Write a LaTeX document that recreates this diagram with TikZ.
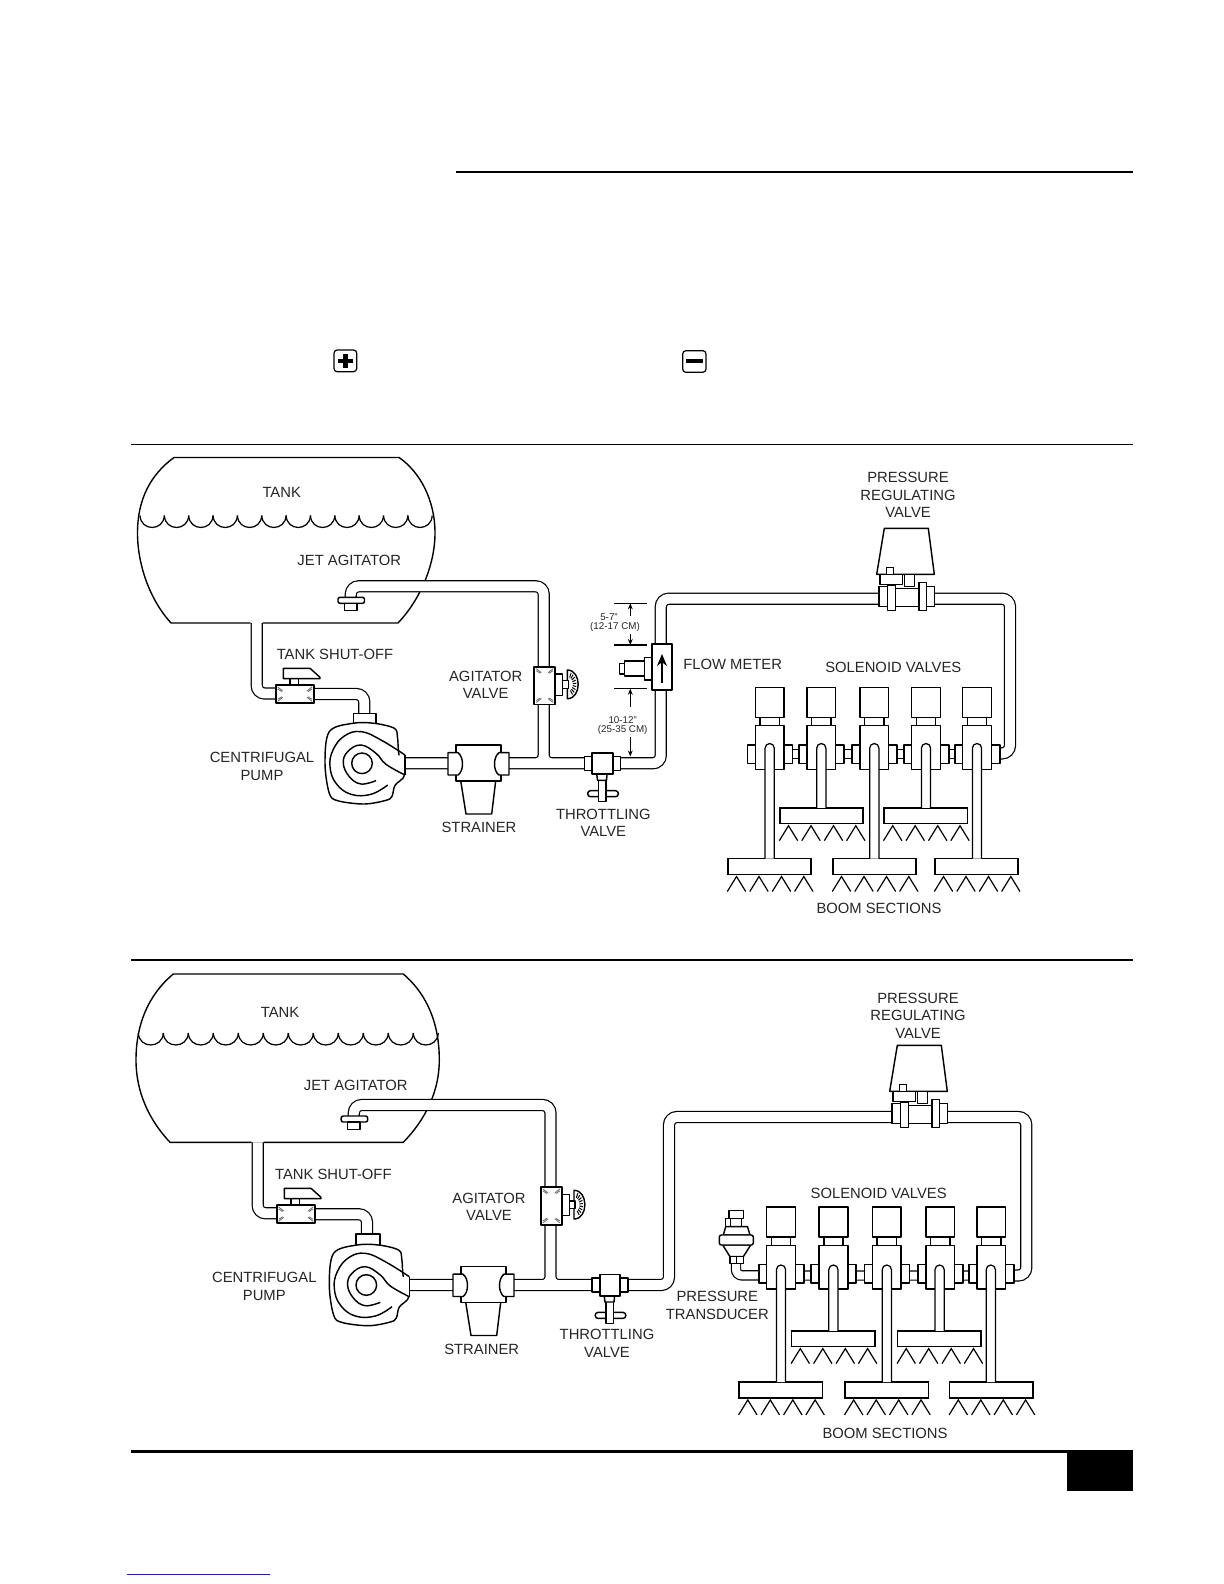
\documentclass[tikz,border=0pt]{standalone}
\usepackage{fontspec}
\setmainfont{Liberation Sans}
\usetikzlibrary{calc,arrows.meta}
\tikzset{
  lab/.style={font=\fontsize{7.4}{8.75}\selectfont,align=center,inner sep=0pt,text=black!85},
  tinylab/.style={font=\fontsize{4.9}{5}\selectfont,align=center,inner sep=0pt,text=black!85},
  part/.style={draw=black,fill=white,line width=0.72pt,line join=round},
  wall/.style={draw=black,fill=white,line width=0.62pt,rounded corners=2.3pt},
  thinline/.style={draw=black,line width=0.62pt},
  pipeblack/.style={draw=black,line width=6.1pt,rounded corners=4pt},
  pipewhite/.style={draw=white,line width=4.9pt,rounded corners=4pt},
  narrowblack/.style={draw=black,line width=5.2pt,rounded corners=3pt},
  narrowwhite/.style={draw=white,line width=4pt,rounded corners=3pt},
  boombox/.style={draw=black,fill=white,line width=0.75pt,rectangle,minimum width=41.7pt,minimum height=7.9pt,inner sep=0pt,outer sep=0pt},
  nozzle/.style={draw=black,line width=0.6pt,line join=miter},
  tick/.style={draw=black!60,line width=0.4pt},
  dimarrow/.style={draw=black,line width=0.45pt,-{Stealth[length=3pt,width=2.4pt]}},
  rule/.style={draw=black}
}
\newcommand\pipes[1]{\draw[pipeblack] #1; \draw[pipewhite] #1;}
\newcommand\narrowpipes[1]{\draw[narrowblack] #1; \draw[narrowwhite] #1;}
\newcommand\water[4]{\foreach \i in {0,...,11}{\pgfmathsetmacro\xa{#1+\i*#3}\pgfmathsetmacro\xb{\xa+#3}
  \draw[thinline] (\xa,#2) .. controls (\xa+0.03*#3,#2+1.33*#4) and (\xb-0.03*#3,#2+1.33*#4) .. (\xb,#2);}}
\newcommand\crossticks[2]{\foreach \sx/\sy/\dx/\dy in {0/0/1/1,#1/0/-1/1,0/#2/1/-1,#1/#2/-1/-1}{
  \draw[tick] (\sx+\dx*2,\sy+\dy*2) -- (\sx+\dx*7,\sy+\dy*6);
  \draw[tick] (\sx+\dx*2,\sy+\dy*4) -- (\sx+\dx*6,\sy+\dy*6.5);}}
\newcommand\shutoffvalve[2]{\begin{scope}[shift={(#1,#2)}]
  \draw[part] (14.3,-7) rectangle (22.6,1);
  \draw[part] (7.6,-16.7) -- (34.3,-16.7) -- (44.3,-7.7) -- (44.3,-6.3) -- (7.6,-6.3) -- cycle;
  \draw[part,line width=0.85pt] (0,0) rectangle (38.3,18.3);
  \crossticks{38.3}{18.3}
\end{scope}}
\newcommand\pumpbody[2]{\begin{scope}[shift={(#1,#2)}]
  \draw[part] plot[smooth cycle,tension=0.55] coordinates {(-32.7,-31.7)(-9.3,-40)(12.3,-40)(32.3,-35)(35.5,-26)(37,-8)(42.5,11.7)(33,22)(30,33)(24,37)(2.3,40.7)(-24,37.5)(-32.7,30)(-37,0)};
  \fill[white] (35,-8) -- (43,-8) -- (43,11.7) -- (41,11.7) -- cycle;
  \draw[thinline,line width=0.72pt] plot[smooth,tension=0.7] coordinates {(43,-8.3)(19,-23.3)(-1,-31.7)(-17.7,-27.3)(-29,-13.3)(-32,3.3)(-26,20)(-11,31)(9,31)(25.7,21.7)};
  \draw[thinline,line width=0.72pt] plot[smooth,tension=0.7] coordinates {(43,11.7)(24,1)(14,-10)(-1,-18.3)(-14.3,-11.7)(-18.7,0)(-12.7,13.3)(-1,20.7)(14,17.3)};
  \draw[thinline,line width=0.8pt] (43,-8.3) -- (43,11.7);
  \draw[thinline,line width=0.72pt] (0,0) circle[radius=10.3];
\end{scope}}
\newcommand\strainerbody[2]{\begin{scope}[shift={(#1,#2)}]
  \draw[part] (4.7,35.7) -- (10,69) -- (35.7,69) -- (39.7,35.7);
  \draw[part] (0,0) rectangle (45,36);
  \draw[part] (-8,7.7) -- (2,7.7) .. controls (8,12) and (8,26) .. (2,30) -- (-8,30) -- cycle;
  \draw[part] (53,7.7) -- (43,7.7) .. controls (37,12) and (37,26) .. (43,30) -- (53,30) -- cycle;
\end{scope}}
\newcommand\agitatorvalve[2]{\begin{scope}[shift={(#1,#2)}]
  \draw[part] (33,3.3) .. controls (47.5,3.3) and (47.5,32) .. (33,32) -- cycle;
  \foreach \a in {-65,-50,...,65}{\draw[draw=black,line width=0.5pt] ($(33,17.6)+(\a:5.5 and 7.5)$) -- ($(33,17.6)+(\a:9 and 12.5)$);}
  \draw[part] (28,13.8) rectangle (34,21.6);
  \draw[part] (20.7,7.3) rectangle (28.4,28.6);
  \draw[part,line width=0.85pt] (0,0) rectangle (20.8,37.8);
  \crossticks{20.8}{37.8}
\end{scope}}
\newcommand\jetbody[2]{\begin{scope}[shift={(#1,#2)}]
  \draw[part,rounded corners=1pt] (-13,0) rectangle (13.5,6);
  \draw[part] (-6.5,6) rectangle (5.9,13.4);
\end{scope}}
\newcommand\throttlevalve[2]{\begin{scope}[shift={(#1,#2)}]
  \draw[part,rounded corners=1.4pt] (-14.8,27.4) rectangle (15.8,33.4);
  \draw[part] (-4.2,16) rectangle (3.6,38.4);
  \draw[part] (-5.8,10.7) -- (4.6,10.7) -- (4,17) -- (-5,17) -- cycle;
  \draw[part] (-18.2,-6.8) rectangle (-10.2,7.2);
  \draw[part] (10.2,-6.8) rectangle (17.8,7.2);
  \draw[part,line width=0.85pt] (-10.2,-10.5) rectangle (10.2,10.7);
\end{scope}}
\newcommand\regvalve[2]{\begin{scope}[shift={(#1,#2)}]
  \draw[part] (0,0) -- (44,0) -- (50,46) -- (-7.6,46) -- cycle;
  \draw[part] (-4.3,46) rectangle (18.4,56);
  \draw[part] (20,46) rectangle (30,58.4);
  \draw[part] (2.4,39) rectangle (9,46.4);
  \draw[part] (-5.3,58.4) rectangle (3,78.4);
  \draw[part] (11.4,60) rectangle (34.7,78.4);
  \draw[part] (3,56.7) rectangle (11.4,82.4);
  \draw[part] (42.4,58.4) rectangle (50,78.4);
  \draw[part] (34.7,54.4) rectangle (42.4,82.4);
\end{scope}}
\newcommand\solenoid[2]{\begin{scope}[shift={(#1,#2)}]
  \draw[part] (-22.2,57.7) rectangle (-14.4,76);
  \draw[part] (14.4,57.7) rectangle (22.8,76);
  \draw[part] (-9.6,30) rectangle (9.6,38.4);
  \draw[part] (-14.4,38.4) rectangle (14.4,82);
  \draw[part] (-14.4,0) rectangle (14.4,30);
\end{scope}}
\newcommand\drop[2]{\draw[wall] ($(#1 |- #2.north)+(-4.6,0)$) -- ($(#1)+(-4.6,0)$) -- ($(#1)+(4.6,0)$) -- ($(#1 |- #2.north)+(4.6,0)$);}
\newcommand\nozzles[1]{\foreach \o in {-33,-10.5,12,34.3}{
  \draw[nozzle] ($(#1.south)+(\o-9.2,17)$) -- ($(#1.south)+(\o,2)$) -- ($(#1.south)+(\o+9.2,17)$);}}
\begin{document}
\begin{tikzpicture}[x=0.5pt,y=-0.5pt]
\useasboundingbox (0,0) rectangle (1224,1584);
\fill[white] (0,0) rectangle (1224,1584);

% page furniture
\draw[rule,line width=1pt] (455.5,172) -- (1133,172);
\draw[rule,line width=0.6pt] (131,444.4) -- (1133,444.4);
\draw[rule,line width=0.9pt] (131,960) -- (1133,960);
\draw[rule,line width=1.5pt] (131,1451.3) -- (1133,1451.3);
\fill[black] (1066.5,1450) rectangle (1133,1491);
\draw[draw={rgb,255:red,30;green,30;blue,170},line width=0.5pt] (127,1574.8) -- (270,1574.8);
\draw[draw=black,line width=0.6pt,rounded corners=1.6pt] (334,350) rectangle (356.7,371.7);
\fill[black] (338.3,358.6) rectangle (352.7,362.8);
\fill[black] (343.3,353.7) rectangle (347.5,367.7);
\draw[draw=black,line width=0.6pt,rounded corners=1.6pt] (682.7,350.7) rectangle (706,372.3);
\fill[black] (686,359) rectangle (702.7,363.3);

%%%%%%%%%%%%%% UPPER DIAGRAM
\draw[thinline,line width=0.7pt] (250.7,623) -- (171,623) .. controls (150,600) and (137.5,565) .. (137.5,533) .. controls (137.5,500) and (150,475) .. (174,457.5) -- (399,457.5) .. controls (420,472) and (435,500) .. (435,533) .. controls (435,565) and (420,600) .. (398,623) -- (262.7,623);
\water{140}{515.5}{24.35}{12}

\coordinate (a-tankout) at (256.7,623);
\coordinate (a-shutin) at (280,693.5);
\coordinate (a-shutout) at (310,694);
\coordinate (a-pumpin) at (364.3,716);
\coordinate (a-pumpout) at (400,763.3);
\coordinate (a-strin) at (452,763.3);
\coordinate (a-strout) at (505,763.3);
\coordinate (a-thrin) at (590,763.3);
\coordinate (a-agbot) at (543.7,700);
\coordinate (a-agtop) at (543.7,670);
\coordinate (a-jetbend) at (350.8,586.3);
\coordinate (a-jet) at (350.8,600);
\coordinate (a-throut) at (616,763.3);
\coordinate (a-fmbot) at (660.8,686);
\coordinate (a-fmtop) at (660.8,650);
\coordinate (a-prvin) at (884,598.7);
\coordinate (a-prvout) at (930,598.7);
\coordinate (a-ret1) at (1010,598.7);
\coordinate (a-ret2) at (1010,753.4);
\coordinate (a-retend) at (990,753.4);
\coordinate (a-m1) at (775,754);
\coordinate (a-m2) at (985,754);

\pipes{(a-tankout) |- (a-shutin) (a-shutout) -| (a-pumpin) (a-pumpout) -- (a-strin) (a-strout) -- (a-thrin) (a-strout) -| (a-agbot) (a-agbot) |- (a-thrin) (a-agtop) |- (a-jetbend) -- (a-jet) (a-throut) -| (a-fmbot) (a-fmtop) |- (a-prvin) (a-prvout) -- (a-ret1) -- (a-ret2) -- (a-retend)}
\narrowpipes{(a-m1) -- (a-m2)}

\shutoffvalve{275.7}{685}
\draw[part] (353.3,713.3) rectangle (376,724);
\pumpbody{362}{763.3}
\strainerbody{456}{745}
\agitatorvalve{534.3}{666.7}
\jetbody{351}{597.3}
\throttlevalve{602.5}{763.3}
\regvalve{884.3}{528.3}

% flow meter
\draw[part] (619.3,663.3) rectangle (624.3,674);
\draw[part] (624.3,661) rectangle (644.3,676);
\draw[part] (644.3,657.3) rectangle (652.3,680);
\draw[part,line width=0.85pt] (652.3,644.3) rectangle (671.7,690);
\draw[draw=black,line width=0.75pt,-{Stealth[length=6pt,width=5pt]}] (662,683) -- (662,654);
\coordinate (a-d1) at (614,603.3); \coordinate (a-d1e) at (646.7,603.3);
\coordinate (a-d2) at (614,645); \coordinate (a-d2e) at (646.7,645);
\coordinate (a-d3) at (614,688.7); \coordinate (a-d3e) at (646.7,688.7);
\draw[thinline] (a-d1) -- (a-d1e) (a-d2) -- (a-d2e) (a-d3) -- (a-d3e);
\coordinate (a-da) at (630.3,616); \coordinate (a-db) at (630.3,634);
\coordinate (a-dc) at (630.3,707); \coordinate (a-dd) at (630.3,737);
\coordinate (a-de) at (630.3,756.5);
\draw[dimarrow] (a-da) -- (a-da |- a-d1);
\draw[dimarrow] (a-db) -- (a-db |- a-d2);
\draw[dimarrow] (a-dc) -- (a-dc |- a-d3);
\draw[dimarrow] (a-dd) -- (a-de);
\node[tinylab] (a-dim1) at (609,617) {5-7"};
\node[tinylab] (a-dim2) at (615,626.7) {(12-17 CM)};
\node[tinylab] (a-dim3) at (622.7,720) {10-12"};
\node[tinylab] (a-dim4) at (622.7,730) {(25-35 CM)};

% solenoids and booms
\solenoid{769.7}{687.3}
\solenoid{821.3}{687.3}
\solenoid{874.3}{687.3}
\solenoid{926}{687.3}
\solenoid{977}{687.3}
\coordinate (a-s1) at (769.7,743.5);
\coordinate (a-s2) at (821.3,743.5);
\coordinate (a-s3) at (874.3,743.5);
\coordinate (a-s4) at (926,743.5);
\coordinate (a-s5) at (977,743.5);
\node[boombox] (a-b1) at (769.5,866.6) {};
\node[boombox] (a-b3) at (874.5,866.6) {};
\node[boombox] (a-b5) at (976.5,866.6) {};
\node[boombox] (a-b2) at (821.5,815.8) {};
\node[boombox] (a-b4) at (925.7,815.8) {};
\drop{a-s1}{a-b1}\drop{a-s2}{a-b2}\drop{a-s3}{a-b3}\drop{a-s4}{a-b4}\drop{a-s5}{a-b5}
\nozzles{a-b1}\nozzles{a-b2}\nozzles{a-b3}\nozzles{a-b4}\nozzles{a-b5}

\node[lab] (a-tank) at (281.7,492.3) {TANK};
\node[lab] (a-jetl) at (349.3,560) {JET AGITATOR};
\node[lab] (a-shutl) at (335,654) {TANK SHUT-OFF};
\node[lab] (a-agl) at (485.7,684.7) {AGITATOR\\VALVE};
\node[lab] (a-puml) at (262,766.4) {CENTRIFUGAL\\PUMP};
\node[lab] (a-strl) at (479,827.7) {STRAINER};
\node[lab] (a-thrl) at (603.3,823) {THROTTLING\\VALVE};
\node[lab] (a-fml) at (732.7,664) {FLOW METER};
\node[lab] (a-soll) at (893.3,667.3) {SOLENOID VALVES};
\node[lab] (a-prvl) at (908,495.3) {PRESSURE\\REGULATING\\VALVE};
\node[lab] (a-booml) at (879,908.7) {BOOM SECTIONS};

%%%%%%%%%%%%%% LOWER DIAGRAM
\draw[thinline,line width=0.7pt] (251.7,1142.3) -- (170,1142.3) .. controls (149,1120) and (136,1092) .. (136,1060) .. controls (136,1025) and (148,995) .. (173.3,974) -- (403.3,974) .. controls (428,995) and (439.3,1025) .. (439.3,1060) .. controls (439.3,1092) and (425,1120) .. (403.3,1142.3) -- (263.7,1142.3);
\water{138.3}{1033}{25}{12}

\coordinate (b-tankout) at (257.7,1142.3);
\coordinate (b-shutin) at (281,1213.3);
\coordinate (b-shutout) at (312,1214.3);
\coordinate (b-pumpin) at (367,1236);
\coordinate (b-pumpout) at (404,1285);
\coordinate (b-strin) at (456,1285);
\coordinate (b-strout) at (510,1285);
\coordinate (b-thrin) at (596,1285);
\coordinate (b-agbot) at (550.5,1220);
\coordinate (b-agtop) at (550.5,1190);
\coordinate (b-jetbend) at (353.8,1105);
\coordinate (b-jet) at (353.8,1118);
\coordinate (b-throut) at (624,1285);
\coordinate (b-up) at (669,1285);
\coordinate (b-prvin) at (896,1117);
\coordinate (b-prvout) at (945,1117);
\coordinate (b-ret1) at (1026.3,1117);
\coordinate (b-ret2) at (1026.3,1275.5);
\coordinate (b-retend) at (1004,1275.5);
\coordinate (b-m1) at (786,1275.5);
\coordinate (b-m2) at (996,1275.5);
\coordinate (b-tdin) at (736,1262);
\coordinate (b-tdout) at (760,1275.4);

\pipes{(b-tankout) |- (b-shutin) (b-shutout) -| (b-pumpin) (b-pumpout) -- (b-strin) (b-strout) -- (b-thrin) (b-strout) -| (b-agbot) (b-agbot) |- (b-thrin) (b-agtop) |- (b-jetbend) -- (b-jet) (b-throut) -- (b-up) |- (b-prvin) (b-prvout) -- (b-ret1) -- (b-ret2) -- (b-retend)}
\narrowpipes{(b-m1) -- (b-m2) (b-tdin) |- (b-tdout)}

\shutoffvalve{276.7}{1205}
\draw[part] (356,1234) rectangle (380,1245.7);
\pumpbody{366.3}{1285}
\strainerbody{461}{1266.5}
\agitatorvalve{541}{1187}
\jetbody{354.2}{1116}
\throttlevalve{610}{1285}
\regvalve{897.3}{1045.3}

% pressure transducer
\draw[part] (729,1210.7) rectangle (743.3,1218.5);
\draw[part] (725.7,1218.5) rectangle (741.7,1226.7);
\draw[draw=black,line width=0.5pt] (730,1218.5) -- (730,1226.7);
\draw[part] (725.7,1226.7) -- (747.5,1226.7) -- (750,1235) -- (723.3,1235) -- cycle;
\draw[part] (722.7,1245) -- (750.7,1245) -- (743.3,1256.7) -- (730,1256.7) -- cycle;
\draw[part,rounded corners=1pt] (719.3,1235) rectangle (753.3,1245);
\draw[part] (730,1256.7) rectangle (743.3,1263.5);
\draw[draw=black,line width=0.5pt] (736.6,1256.7) -- (736.6,1263.5);

% solenoids and booms
\solenoid{781}{1207}
\solenoid{833.4}{1207}
\solenoid{886.8}{1207}
\solenoid{940.2}{1207}
\solenoid{991.3}{1207}
\coordinate (b-s1) at (781,1265);
\coordinate (b-s2) at (833.4,1265);
\coordinate (b-s3) at (886.8,1265);
\coordinate (b-s4) at (939.6,1265);
\coordinate (b-s5) at (990.8,1265);
\node[boombox] (b-b1) at (780.8,1390) {};
\node[boombox] (b-b3) at (886.7,1390) {};
\node[boombox] (b-b5) at (991.3,1390) {};
\node[boombox] (b-b2) at (833.3,1338.7) {};
\node[boombox] (b-b4) at (939.2,1338.7) {};
\drop{b-s1}{b-b1}\drop{b-s2}{b-b2}\drop{b-s3}{b-b3}\drop{b-s4}{b-b4}\drop{b-s5}{b-b5}
\nozzles{b-b1}\nozzles{b-b2}\nozzles{b-b3}\nozzles{b-b4}\nozzles{b-b5}

\node[lab] (b-tank) at (280,1012.3) {TANK};
\node[lab] (b-jetl) at (355.7,1085.7) {JET AGITATOR};
\node[lab] (b-shutl) at (333.3,1174) {TANK SHUT-OFF};
\node[lab] (b-agl) at (489,1206.8) {AGITATOR\\VALVE};
\node[lab] (b-puml) at (264.3,1286.3) {CENTRIFUGAL\\PUMP};
\node[lab] (b-strl) at (481.7,1349.3) {STRAINER};
\node[lab] (b-thrl) at (607,1343.5) {THROTTLING\\VALVE};
\node[lab] (b-tdl) at (717.3,1305.5) {PRESSURE\\TRANSDUCER};
\node[lab] (b-soll) at (878.7,1193.3) {SOLENOID VALVES};
\node[lab] (b-prvl) at (918,1015.7) {PRESSURE\\REGULATING\\VALVE};
\node[lab] (b-booml) at (885,1433.3) {BOOM SECTIONS};
\end{tikzpicture}
\end{document}
